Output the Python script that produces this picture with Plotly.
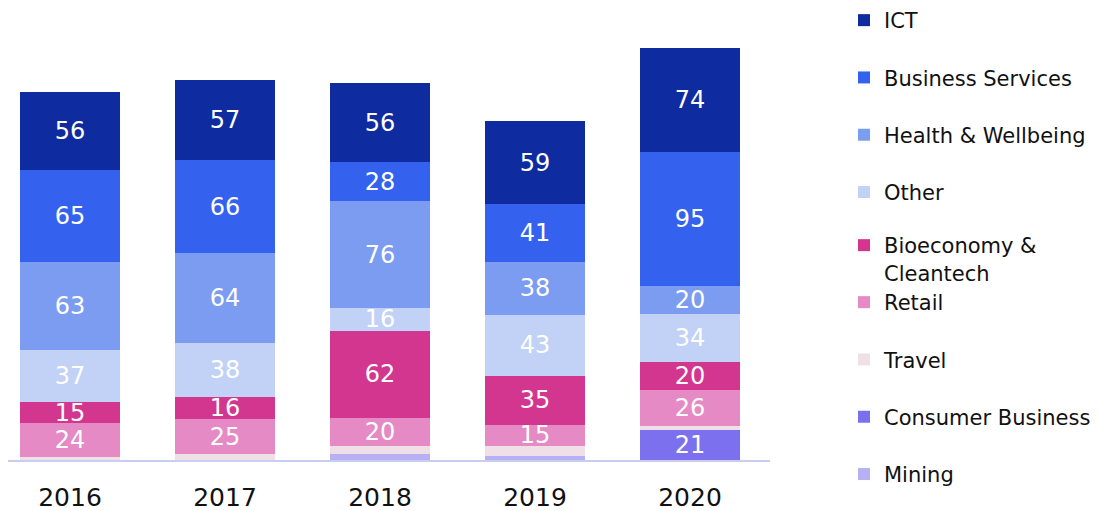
import plotly.graph_objects as go

years = ["2016", "2017", "2018", "2019", "2020"]

# stacking order bottom -> top
mining = [0, 0, 4, 3, 0]
consumer_business = [0, 0, 0, 0, 21]
travel = [2, 4, 6, 7, 3]
retail = [24, 25, 20, 15, 26]
bioeconomy = [15, 16, 62, 35, 20]
other = [37, 38, 16, 43, 34]
health = [63, 64, 76, 38, 20]
business_services = [65, 66, 28, 41, 95]
ict = [56, 57, 56, 59, 74]

# (name, values, colour, show value labels, legend, legend rank)
series = [
    ("Mining", mining, "#b7b0f2", False, "legend3", 9),
    ("Consumer Business", consumer_business, "#7d70ef", True, "legend3", 8),
    ("Travel", travel, "#efdfe7", False, "legend3", 7),
    ("Retail", retail, "#e58ac4", True, "legend3", 6),
    ("Bioeconomy &<br>Cleantech", bioeconomy, "#d2368f", True, "legend2", 5),
    ("Other", other, "#c2d2f6", True, "legend", 4),
    ("Health & Wellbeing", health, "#7b9cf0", True, "legend", 3),
    ("Business Services", business_services, "#3462ee", True, "legend", 2),
    ("ICT", ict, "#0e2ba0", True, "legend", 1),
]

fig = go.Figure()
for name, vals, color, labelled, leg, rank in series:
    txt = [str(v) if (labelled and v > 0) else "" for v in vals]
    fig.add_trace(go.Bar(
        x=years, y=vals, name=name,
        marker=dict(color=color, line=dict(width=0)),
        text=txt, textposition="inside", insidetextanchor="middle",
        constraintext="none", textangle=0,
        textfont=dict(family="DejaVu Sans", size=24, color="white"),
        width=0.645, legend=leg, legendgroup=name, legendrank=rank,
        hoverinfo="skip",
    ))

# the page body adds an 8px offset, figure coordinates compensate for it
legend_common = dict(
    xref="container", yref="paper", x=836 / 1100,
    xanchor="left", yanchor="top", traceorder="grouped",
    font=dict(size=21, color="#111111"), tracegroupgap=27,
    valign="top", bgcolor="rgba(0,0,0,0)",
)

fig.update_layout(
    width=1100, height=511,
    barmode="stack",
    paper_bgcolor="white", plot_bgcolor="white",
    margin=dict(l=0, r=338, t=2, b=59, autoexpand=False),
    font=dict(family="DejaVu Sans", color="#111111"),
    xaxis=dict(
        range=[-0.4, 4.516], showgrid=False, zeroline=False,
        showline=True, linecolor="#c9cdf2", linewidth=2,
        ticks="", tickfont=dict(size=25, color="#111111"),
        ticklabelstandoff=14, automargin=False,
    ),
    yaxis=dict(range=[0, 320], visible=False, automargin=False),
    legend=dict(legend_common, y=460 / 450),
    legend2=dict(legend_common, y=235 / 450),
    legend3=dict(legend_common, y=178 / 450),
    showlegend=True,
)

fig.write_html("out.html")
